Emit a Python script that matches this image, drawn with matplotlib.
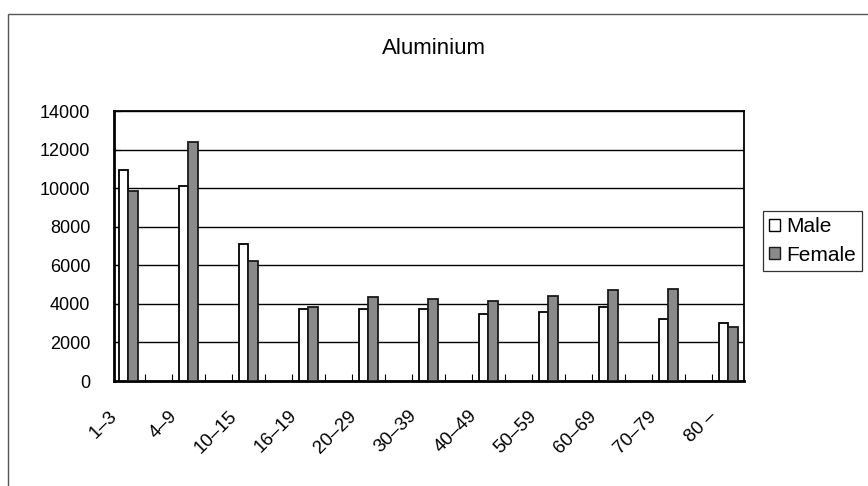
import matplotlib
matplotlib.use("Agg")
import matplotlib.pyplot as plt
import matplotlib.transforms as mtransforms
import numpy as np
from matplotlib.patches import Rectangle, Patch

plt.rcParams['font.family'] = ['Liberation Sans', 'DejaVu Sans']

# age groups and intake values
ages = ["1–3", "4–9", "10–15", "16–19", "20–29", "30–39",
        "40–49", "50–59", "60–69", "70–79", "80 –"]
male = [10930, 10120, 7130, 3710, 3710, 3760, 3450, 3560, 3850, 3210, 2990]
female = [9840, 12380, 6220, 3820, 4370, 4230, 4130, 4390, 4700, 4780, 2820]

fig = plt.figure(figsize=(8.68, 4.86), dpi=100)
ax = fig.add_axes([0.1313, 0.216, 0.7258, 0.5556])

x = np.arange(len(ages))
w = 0.16
ax.bar(x - w / 2, male, w, color="white", edgecolor="black", linewidth=1.3, zorder=3)
ax.bar(x + w / 2, female, w, color="#8a8a8a", edgecolor="#1a1a1a", linewidth=1.3, zorder=3)

ax.set_yticks(np.arange(0, 14001, 2000))
ax.yaxis.grid(True, color="black", linewidth=1.0, zorder=1)
ax.tick_params(axis="y", direction="in", length=5, pad=17, labelsize=13)

# labels sit left of each pair, small inward ticks either side of it
ax.set_xticks(x - 0.2)
ax.set_xticklabels(ages, rotation=45, ha="right", va="top", rotation_mode="anchor", fontsize=13.5)
ax.tick_params(axis="x", which="major", length=0, pad=19)
shift = mtransforms.ScaledTranslation(-6 / 72, 0, fig.dpi_scale_trans)
for lab in ax.get_xticklabels():
    lab.set_transform(lab.get_transform() + shift)
ax.set_xticks(np.concatenate([x - 0.27, x + 0.27]), minor=True)
ax.tick_params(axis="x", which="minor", direction="in", length=5, width=0.8)

ax.set_xlim(-0.242, 10.26)
ax.set_ylim(0, 14000)

for s in ["top", "right"]:
    ax.spines[s].set_linewidth(1.3)
for s in ["left", "bottom"]:
    ax.spines[s].set_linewidth(2.0)

fig.text(0.5, 1 - 48 / 486, "Aluminium", ha="center", va="center", fontsize=16)

# outer chart frame
fig.patches.append(Rectangle((8 / 868, -0.1), 1.2, 1 - 14 / 486 + 0.1, transform=fig.transFigure,
                             fill=False, edgecolor="#555555", linewidth=1.0))

handles = [Patch(facecolor="white", edgecolor="black", label="Male"),
           Patch(facecolor="#8a8a8a", edgecolor="#1a1a1a", label="Female")]
leg = fig.legend(handles=handles, loc="upper left", bbox_to_anchor=(763 / 868, 1 - 211 / 486),
                 frameon=True, fancybox=False, fontsize=15, handlelength=0.5, handleheight=0.5,
                 handletextpad=0.3, borderpad=0.3, labelspacing=0.45, borderaxespad=0)
leg.get_frame().set_edgecolor("black")
leg.get_frame().set_linewidth(0.9)

fig.savefig("out.png", dpi=100)
